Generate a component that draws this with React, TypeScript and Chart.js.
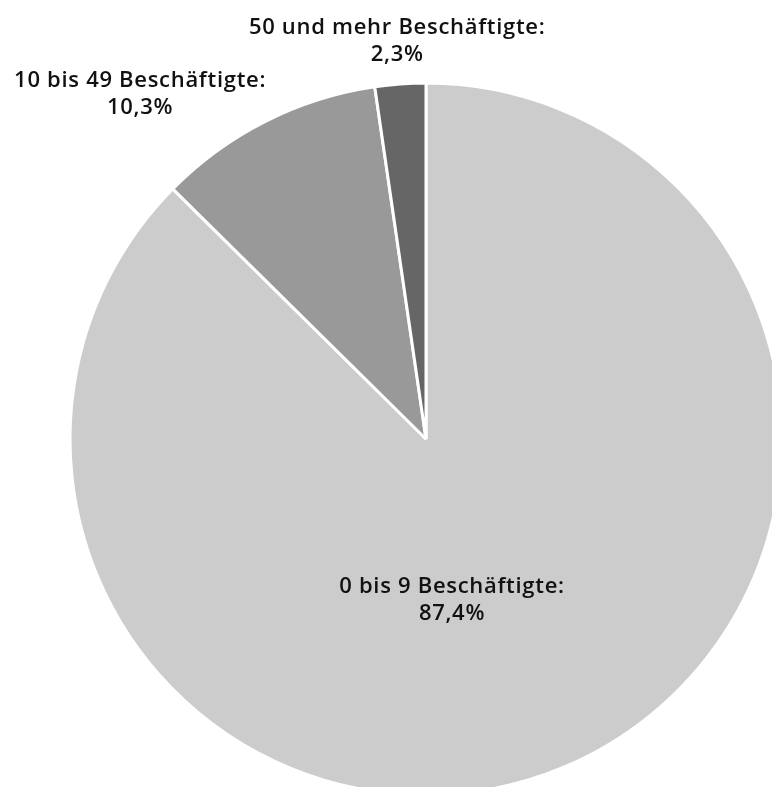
import React, { useEffect, useRef } from "react";
import { Chart, registerables } from "chart.js";

Chart.register(...registerables);

// Betriebe nach Beschäftigtengrößenklassen (Anteile in %)
const categories = ["0 bis 9 Beschäftigte", "10 bis 49 Beschäftigte", "50 und mehr Beschäftigte"];
const shares = [87.4, 10.3, 2.3];
const sliceColors = ["#cccccc", "#999999", "#666666"];

const WIDTH = 772;
const HEIGHT = 787;
const FONT = '600 22px "Open Sans", sans-serif';
const LETTER_SPACING = "0.7px";
const LINE_GAP = 27;

// label anchors, expressed relative to the pie centre in units of its radius
const labelAnchors = [
  { dx: 0.073, dy: 0.47 },
  { dx: -0.803, dy: -0.952 },
  { dx: -0.081, dy: -1.1 },
];

const formatShare = (v: number) => v.toFixed(1).replace(".", ",") + "%";

const sliceLabels = {
  id: "sliceLabels",
  afterDatasetsDraw(chart: Chart) {
    const ctx = chart.ctx as any;
    const meta = chart.getDatasetMeta(0);
    ctx.save();
    ctx.font = FONT;
    ctx.letterSpacing = LETTER_SPACING;
    ctx.fillStyle = "#111111";
    ctx.textAlign = "center";
    ctx.textBaseline = "alphabetic";
    meta.data.forEach((el: any, i: number) => {
      const { x, y, outerRadius } = el.getProps(["x", "y", "outerRadius"], true);
      const a = labelAnchors[i];
      const cx = x + a.dx * outerRadius;
      const cy = y + a.dy * outerRadius;
      const value = (chart.data.datasets[0].data as number[])[i];
      ctx.fillText(`${chart.data.labels![i]}:`, cx, cy - LINE_GAP / 2);
      ctx.fillText(formatShare(value), cx, cy + LINE_GAP / 2);
    });
    ctx.restore();
  },
};

export default function App() {
  const ref = useRef<HTMLCanvasElement>(null);

  useEffect(() => {
    if (!ref.current) return;
    const chart = new Chart(ref.current, {
      type: "pie",
      data: {
        labels: categories,
        datasets: [
          {
            data: shares,
            backgroundColor: sliceColors,
            borderColor: "#ffffff",
            borderWidth: 3,
            radius: 356,
            clip: false as any,
          } as any,
        ],
      },
      options: {
        responsive: false,
        animation: false,
        events: [],
        layout: { padding: { left: 80, right: 0, top: 91, bottom: 0 } },
        plugins: {
          legend: { display: false },
          tooltip: { enabled: false },
        },
      },
      plugins: [sliceLabels],
    });
    return () => chart.destroy();
  }, []);

  return (
    <div
      style={{
        position: "fixed",
        left: 0,
        top: 0,
        width: WIDTH,
        height: HEIGHT,
        overflow: "hidden",
        background: "#ffffff",
      }}
    >
      <canvas ref={ref} width={WIDTH} height={HEIGHT} style={{ display: "block" }} />
    </div>
  );
}
